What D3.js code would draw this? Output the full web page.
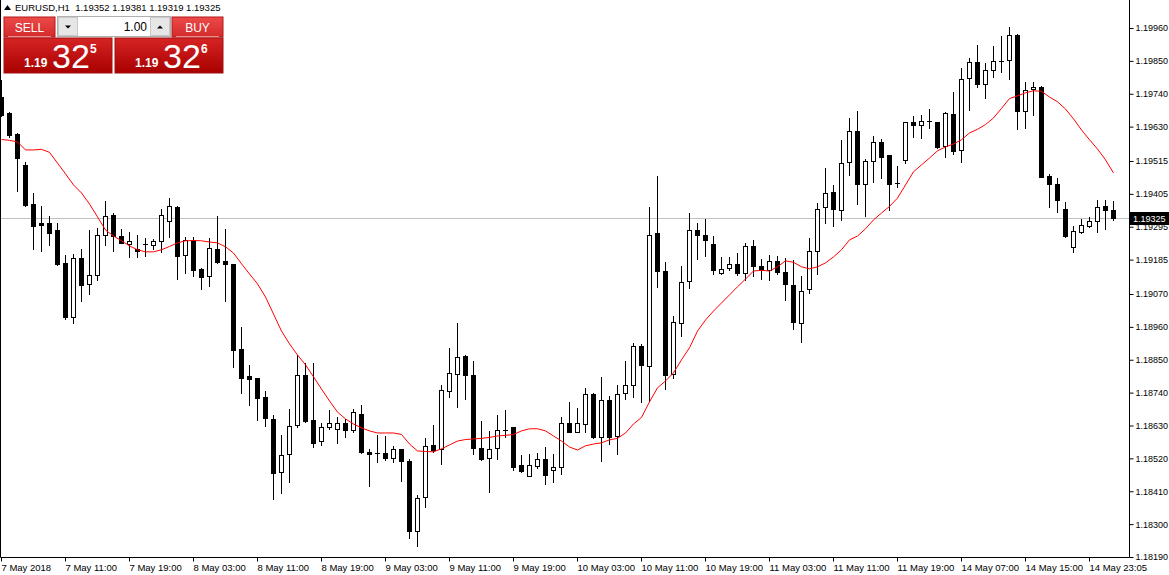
<!DOCTYPE html>
<html>
<head>
<meta charset="utf-8">
<script src="https://cdn.jsdelivr.net/npm/d3@7"></script>
<style>
  body { margin: 0; background: #fff; }
  svg { display: block; font-family: Tahoma, "Liberation Sans", Arial, sans-serif; }
</style>
</head>
<body>
<div id="chart"></div>
<script>
// EURUSD H1 bars (oldest first)
const openP = [
1.19729,1.19674,1.19606,1.19502,1.19371,1.19308,1.19308,1.19284,1.19174,1.18993,
1.19191,1.19104,1.19134,1.19268,1.19335,1.19264,1.19238,1.19221,1.19236,1.19233,
1.19246,1.19313,1.19362,1.19199,1.19251,1.19154,1.19129,1.19219,1.19181,1.19171,
1.18886,1.18796,1.18789,1.18726,1.18652,1.18475,1.18535,1.18630,1.18799,1.18649,
1.18577,1.18624,1.18619,1.18637,1.18614,1.18670,1.18542,1.18537,1.18537,1.18522,
1.18550,1.18512,1.18276,1.18391,1.18565,1.18552,1.18747,1.18803,1.18863,1.18799,
1.18555,1.18522,1.18555,1.18615,1.18624,1.18498,1.18461,1.18493,1.18517,1.18481,
1.18491,1.18637,1.18609,1.18635,1.18736,1.18590,1.18716,1.18594,1.18739,1.18764,
1.18896,1.18828,1.19273,1.19147,1.18803,1.18973,1.19114,1.19284,1.19268,1.19238,
1.19139,1.19157,1.19172,1.19141,1.19231,1.19164,1.19151,1.19181,1.19142,1.19100,
1.18973,1.19087,1.19214,1.19360,1.19410,1.19350,1.19510,1.19616,1.19438,1.19514,
1.19577,1.19534,1.19443,1.19517,1.19644,1.19634,1.19649,1.19644,1.19564,1.19673,
1.19552,1.19793,1.19845,1.19771,1.19818,1.19848,1.19852,1.19937,1.19681,1.19755,
1.19763,1.19465,1.19438,1.19355,1.19226,1.19279,1.19299,1.19313,1.19365,1.19352
];
const highP = [
1.19786,1.19678,1.19609,1.19512,1.19408,1.19365,1.19331,1.19308,1.19201,1.19204,
1.19221,1.19284,1.19291,1.19381,1.19341,1.19288,1.19278,1.19268,1.19258,1.19254,
1.19355,1.19391,1.19365,1.19261,1.19261,1.19157,1.19258,1.19331,1.19288,1.19172,
1.18960,1.18833,1.18790,1.18746,1.18665,1.18599,1.18686,1.18866,1.18839,1.18839,
1.18639,1.18682,1.18659,1.18652,1.18686,1.18699,1.18552,1.18599,1.18595,1.18562,
1.18552,1.18518,1.18398,1.18588,1.18632,1.18766,1.18890,1.18973,1.18866,1.18846,
1.18645,1.18612,1.18665,1.18682,1.18626,1.18532,1.18535,1.18538,1.18558,1.18535,
1.18659,1.18709,1.18689,1.18756,1.18739,1.18793,1.18729,1.18766,1.18846,1.18906,
1.18903,1.19361,1.19465,1.19177,1.18997,1.19164,1.19341,1.19308,1.19321,1.19264,
1.19194,1.19194,1.19207,1.19241,1.19251,1.19188,1.19201,1.19198,1.19191,1.19184,
1.19131,1.19258,1.19375,1.19492,1.19435,1.19586,1.19659,1.19683,1.19522,1.19599,
1.19589,1.19535,1.19499,1.19646,1.19666,1.19669,1.19689,1.19646,1.19679,1.19746,
1.19826,1.19860,1.19903,1.19843,1.19900,1.19934,1.19964,1.19940,1.19780,1.19780,
1.19766,1.19472,1.19458,1.19378,1.19298,1.19321,1.19328,1.19385,1.19385,1.19381
];
const lowP = [
1.19666,1.19596,1.19415,1.19366,1.19221,1.19214,1.19234,1.19167,1.18987,1.18973,
1.19047,1.19070,1.19117,1.19234,1.19214,1.19240,1.19194,1.19194,1.19198,1.19219,
1.19212,1.19261,1.19120,1.19141,1.19131,1.19087,1.19097,1.19174,1.19047,1.18826,
1.18739,1.18699,1.18649,1.18629,1.18384,1.18404,1.18441,1.18625,1.18643,1.18558,
1.18565,1.18619,1.18572,1.18592,1.18609,1.18538,1.18428,1.18508,1.18515,1.18508,
1.18445,1.18254,1.18227,1.18358,1.18542,1.18501,1.18726,1.18692,1.18719,1.18535,
1.18515,1.18408,1.18518,1.18592,1.18481,1.18475,1.18460,1.18488,1.18435,1.18441,
1.18468,1.18607,1.18607,1.18609,1.18588,1.18512,1.18568,1.18535,1.18719,1.18726,
1.18709,1.18712,1.19094,1.18752,1.18789,1.18930,1.19090,1.19188,1.19198,1.19138,
1.19138,1.19151,1.19134,1.19118,1.19131,1.19120,1.19118,1.19138,1.19050,1.18953,
1.18910,1.19074,1.19138,1.19308,1.19298,1.19318,1.19468,1.19371,1.19331,1.19445,
1.19458,1.19351,1.19428,1.19508,1.19596,1.19592,1.19626,1.19559,1.19529,1.19539,
1.19512,1.19686,1.19763,1.19726,1.19796,1.19813,1.19790,1.19622,1.19626,1.19669,
1.19460,1.19361,1.19345,1.19261,1.19212,1.19274,1.19294,1.19278,1.19288,1.19319
];
const closeP = [
1.19669,1.19602,1.19525,1.19368,1.19298,1.19301,1.19274,1.19171,1.18993,1.19191,
1.19100,1.19134,1.19268,1.19331,1.19263,1.19241,1.19248,1.19214,1.19233,1.19248,
1.19335,1.19365,1.19197,1.19251,1.19151,1.19127,1.19223,1.19177,1.19169,1.18883,
1.18789,1.18786,1.18722,1.18655,1.18471,1.18532,1.18629,1.18799,1.18645,1.18572,
1.18625,1.18637,1.18637,1.18614,1.18674,1.18540,1.18533,1.18533,1.18520,1.18550,
1.18510,1.18276,1.18389,1.18562,1.18548,1.18749,1.18804,1.18859,1.18798,1.18555,
1.18518,1.18553,1.18615,1.18613,1.18490,1.18477,1.18498,1.18517,1.18466,1.18490,
1.18637,1.18609,1.18637,1.18734,1.18590,1.18716,1.18590,1.18737,1.18764,1.18896,
1.18831,1.19269,1.19146,1.18798,1.18975,1.19109,1.19284,1.19266,1.19251,1.19149,
1.19154,1.19172,1.19141,1.19231,1.19162,1.19149,1.19181,1.19142,1.19102,1.18977,
1.19080,1.19214,1.19356,1.19407,1.19355,1.19507,1.19616,1.19438,1.19515,1.19577,
1.19530,1.19438,1.19438,1.19644,1.19634,1.19649,1.19644,1.19562,1.19674,1.19550,
1.19791,1.19845,1.19771,1.19818,1.19850,1.19850,1.19937,1.19681,1.19753,1.19761,
1.19463,1.19438,1.19383,1.19263,1.19281,1.19301,1.19315,1.19361,1.19350,1.19325
];
// red moving average line, one value per bar
const maP = [
1.19587,1.19584,1.19579,1.19552,1.19552,1.19554,1.19544,1.19508,1.19472,1.19435,
1.19408,1.19371,1.19328,1.19284,1.19264,1.19248,1.19231,1.19218,1.19211,1.19211,
1.19218,1.19229,1.19241,1.19248,1.19249,1.19248,1.19244,1.19241,1.19228,1.19207,
1.19171,1.19137,1.19104,1.19060,1.19003,1.18946,1.18903,1.18866,1.18833,1.18793,
1.18752,1.18712,1.18675,1.18652,1.18635,1.18622,1.18612,1.18605,1.18605,1.18605,
1.18600,1.18568,1.18545,1.18543,1.18542,1.18552,1.18565,1.18578,1.18583,1.18585,
1.18587,1.18590,1.18595,1.18597,1.18600,1.18612,1.18619,1.18619,1.18612,1.18595,
1.18578,1.18558,1.18548,1.18562,1.18568,1.18572,1.18582,1.18587,1.18605,1.18635,
1.18657,1.18709,1.18756,1.18779,1.18806,1.18850,1.18890,1.18946,1.18983,1.19013,
1.19040,1.19067,1.19094,1.19120,1.19147,1.19149,1.19147,1.19161,1.19181,1.19176,
1.19161,1.19154,1.19161,1.19174,1.19194,1.19218,1.19251,1.19264,1.19288,1.19318,
1.19341,1.19363,1.19391,1.19435,1.19479,1.19502,1.19525,1.19549,1.19562,1.19572,
1.19586,1.19609,1.19621,1.19637,1.19659,1.19691,1.19724,1.19733,1.19743,1.19750,
1.19748,1.19729,1.19713,1.19689,1.19656,1.19619,1.19586,1.19555,1.19519,1.19475
];
const priceTicks = [1.19960,1.19850,1.19740,1.19630,1.19515,1.19405,1.19295,1.19185,
  1.19070,1.18960,1.18850,1.18740,1.18630,1.18520,1.18410,1.18300,1.18190];
const timeLabels = ["7 May 2018","7 May 11:00","7 May 19:00","8 May 03:00","8 May 11:00",
  "8 May 19:00","9 May 03:00","9 May 11:00","9 May 19:00","10 May 03:00","10 May 11:00",
  "10 May 19:00","11 May 03:00","11 May 11:00","11 May 19:00","14 May 07:00","14 May 15:00",
  "14 May 23:05"];
const timeBars = [0,8,16,24,32,40,48,56,64,72,80,88,96,104,112,120,128,136];
const lastPrice = 1.19325;
const header = "EURUSD,H1  1.19352 1.19381 1.19319 1.19325";

const width = 1169, height = 575;
const plotRight = 1129, plotBottom = 557;
const axisFont = "Tahoma, 'Liberation Sans', Arial, sans-serif";

const bars = openP.map((o, i) => ({ i, o, h: highP[i], l: lowP[i], c: closeP[i] }));

const svg = d3.select("#chart").append("svg")
  .attr("width", width).attr("height", height);

const xScale = d3.scaleLinear().domain([0, bars.length - 1]).range([1, 1113]);
const yScale = d3.scaleLinear().domain([1.18190, 1.19960]).range([557, 28]);

const defs = svg.append("defs");
defs.append("clipPath").attr("id", "plot")
  .append("rect").attr("x", 0).attr("y", 0).attr("width", plotRight).attr("height", plotBottom);

// current price line
svg.append("line")
  .attr("x1", 0).attr("x2", plotRight)
  .attr("y1", Math.round(yScale(lastPrice)) + 0.5).attr("y2", Math.round(yScale(lastPrice)) + 0.5)
  .attr("stroke", "#c0c0c0");

const plot = svg.append("g").attr("clip-path", "url(#plot)");

// candles
const candle = plot.selectAll(".candle").data(bars).join("g").attr("class", "candle");
candle.append("line")
  .attr("x1", d => Math.round(xScale(d.i)) + 0.5)
  .attr("x2", d => Math.round(xScale(d.i)) + 0.5)
  .attr("y1", d => Math.round(yScale(d.h)))
  .attr("y2", d => Math.round(yScale(d.l)) + 1)
  .attr("stroke", "#000");
candle.append("rect")
  .each(function(d) {
    const cx = Math.round(xScale(d.i));
    const top = Math.round(yScale(Math.max(d.o, d.c)));
    const bot = Math.round(yScale(Math.min(d.o, d.c)));
    const r = d3.select(this);
    if (bot - top <= 1) {
      r.attr("x", cx - 2).attr("y", top).attr("width", 5).attr("height", 1).attr("fill", "#000");
    } else if (d.c < d.o) {
      r.attr("x", cx - 2).attr("y", top).attr("width", 5).attr("height", bot - top + 1).attr("fill", "#000");
    } else {
      r.attr("x", cx - 1.5).attr("y", top + 0.5).attr("width", 4).attr("height", bot - top)
        .attr("fill", "#fff").attr("stroke", "#000");
    }
  });

// moving average
plot.append("path")
  .datum(maP)
  .attr("fill", "none")
  .attr("stroke", "#ff0000")
  .attr("stroke-width", 1)
  .attr("d", d3.line().x((d, i) => Math.round(xScale(i)) + 0.5).y(d => yScale(d)));

// frame
svg.append("path")
  .attr("d", `M0.5,0V${plotBottom + 0.5}H${plotRight + 0.5}V0`)
  .attr("fill", "none").attr("stroke", "#000");

// price axis
const yAxis = svg.append("g")
  .attr("transform", `translate(${plotRight + 0.5},0)`)
  .call(d3.axisRight(yScale).tickValues(priceTicks).tickSize(4).tickPadding(2)
    .tickFormat(d3.format(".5f")));
yAxis.select(".domain").remove();
yAxis.selectAll("text").style("font-size", "9px").style("font-family", axisFont).attr("fill", "#000");
yAxis.selectAll("line").attr("stroke", "#000");

// time axis
const xAxis = svg.append("g")
  .attr("transform", `translate(0,${plotBottom + 0.5})`)
  .call(d3.axisBottom(xScale).tickValues(timeBars).tickSize(4).tickPadding(3)
    .tickFormat((d, i) => timeLabels[i]));
xAxis.select(".domain").remove();
xAxis.selectAll("text").attr("text-anchor", "start").attr("x", 0)
  .style("font-size", "9.5px").style("font-family", axisFont).attr("fill", "#000");
xAxis.selectAll("line").attr("stroke", "#000");

// last price marker
const ly = yScale(lastPrice);
svg.append("rect").attr("x", plotRight + 1).attr("y", Math.round(ly) - 6)
  .attr("width", width - plotRight - 1).attr("height", 13).attr("fill", "#000");
svg.append("text").attr("x", plotRight + 4).attr("y", Math.round(ly) + 4)
  .attr("fill", "#fff").style("font-size", "9px").text(d3.format(".5f")(lastPrice));

// header line
svg.append("path").attr("d", "M4,10 L7.5,5 L11,10 Z").attr("fill", "#000");
svg.append("text").attr("x", 15).attr("y", 11).style("font-size", "9.5px")
  .attr("fill", "#000").style("white-space", "pre").text(header);

// one-click trading panel
const gTop = defs.append("linearGradient").attr("id", "btnTop").attr("x1", 0).attr("x2", 0).attr("y1", 0).attr("y2", 1);
gTop.append("stop").attr("offset", "0%").attr("stop-color", "#ec4a4a");
gTop.append("stop").attr("offset", "100%").attr("stop-color", "#d42a2a");
const gBot = defs.append("linearGradient").attr("id", "btnBot").attr("x1", 0).attr("x2", 0).attr("y1", 0).attr("y2", 1);
gBot.append("stop").attr("offset", "0%").attr("stop-color", "#d62424");
gBot.append("stop").attr("offset", "100%").attr("stop-color", "#a80000");

const panel = svg.append("g");
const sides = [
  { label: "SELL", x: 4, big: "32", pip: "5" },
  { label: "BUY", x: 115, big: "32", pip: "6" }
];
sides.forEach(s => {
  const topX = s.label === "SELL" ? 4 : 172;
  panel.append("rect").attr("x", topX).attr("y", 17).attr("width", 51).attr("height", 20)
    .attr("fill", "url(#btnTop)").attr("stroke", "#b41818");
  panel.append("line").attr("x1", topX + 4).attr("x2", topX + 47).attr("y1", 36.5).attr("y2", 36.5)
    .attr("stroke", "#f08a8a");
  panel.append("text").attr("x", topX + 25.5).attr("y", 32).attr("text-anchor", "middle")
    .attr("fill", "#fff").style("font-size", "12px").text(s.label);
  panel.append("rect").attr("x", s.x).attr("y", 38).attr("width", 108).attr("height", 35)
    .attr("fill", "url(#btnBot)").attr("stroke", "#a01010");
  panel.append("text").attr("x", s.x + 20).attr("y", 67).attr("fill", "#fff")
    .style("font-size", "12px").style("font-weight", "bold").text("1.19");
  panel.append("text").attr("x", s.x + 48).attr("y", 68).attr("fill", "#fff")
    .style("font-size", "34px").text(s.big);
  panel.append("text").attr("x", s.x + 86).attr("y", 53).attr("fill", "#fff")
    .style("font-size", "12px").style("font-weight", "bold").text(s.pip);
});
// lot size box
panel.append("rect").attr("x", 57.5).attr("y", 16.5).attr("width", 113).attr("height", 20)
  .attr("fill", "#fff").attr("stroke", "#b0b0b0");
[58, 150].forEach((bx, k) => {
  panel.append("rect").attr("x", bx + 0.5).attr("y", 17.5).attr("width", 19).attr("height", 18)
    .attr("fill", "#e6e6e6").attr("stroke", "#c8c8c8");
  const cx = bx + 10, cy = 27;
  panel.append("path")
    .attr("d", k === 0 ? `M${cx - 3},${cy - 1.5} L${cx + 3},${cy - 1.5} L${cx},${cy + 1.5} Z`
                       : `M${cx - 3},${cy + 1.5} L${cx + 3},${cy + 1.5} L${cx},${cy - 1.5} Z`)
    .attr("fill", "#000");
});
panel.append("text").attr("x", 147).attr("y", 31).attr("text-anchor", "end")
  .attr("fill", "#000").style("font-size", "12px").text("1.00");
</script>
</body>
</html>
